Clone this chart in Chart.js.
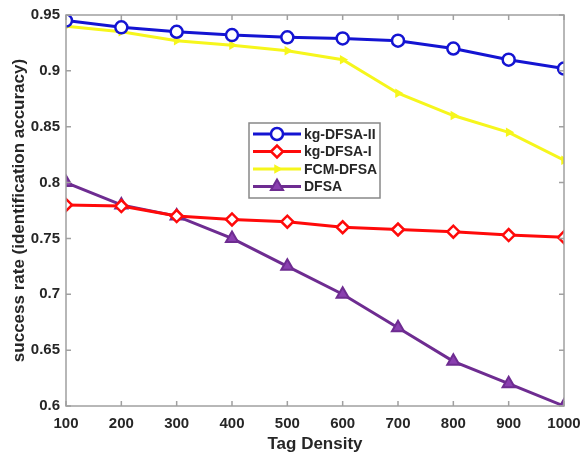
<!DOCTYPE html>
<html>
<head>
<meta charset="utf-8">
<script src="https://cdn.jsdelivr.net/npm/chart.js@4"></script>
<style>
  html, body { margin: 0; padding: 0; background: #fff; }
  #box { width: 581px; height: 457px; }
</style>
</head>
<body>
<div id="box"><canvas id="grafico" width="581" height="457"></canvas></div>
<script>
// dados
const densidade = [100, 200, 300, 400, 500, 600, 700, 800, 900, 1000];
const kgDfsaII = [0.945, 0.939, 0.935, 0.932, 0.930, 0.929, 0.927, 0.920, 0.910, 0.902];
const kgDfsaI  = [0.780, 0.779, 0.770, 0.767, 0.765, 0.760, 0.758, 0.756, 0.753, 0.751];
const fcmDfsa  = [0.940, 0.935, 0.927, 0.923, 0.918, 0.910, 0.880, 0.860, 0.845, 0.820];
const dfsa     = [0.800, 0.780, 0.770, 0.750, 0.725, 0.700, 0.670, 0.640, 0.620, 0.600];
const yTicks = [0.6, 0.65, 0.7, 0.75, 0.8, 0.85, 0.9, 0.95];

const fonte = "'Liberation Sans', Arial, sans-serif";

function pares(ys) {
    return densidade.map(function (x, i) { return { x: x, y: ys[i] }; });
}

const series = [
    { label: 'kg-DFSA-II', data: pares(kgDfsaII), borderColor: '#1414d2', backgroundColor: '#ffffff',
      pointStyle: 'circle', pointRadius: 6, pointBorderWidth: 2.5, pointRotation: 0 },
    { label: 'kg-DFSA-I', data: pares(kgDfsaI), borderColor: '#ff0a0a', backgroundColor: '#ffffff',
      pointStyle: 'rectRot', pointRadius: 6, pointBorderWidth: 2.5, pointRotation: 0 },
    { label: 'FCM-DFSA', data: pares(fcmDfsa), borderColor: '#f6f61c', backgroundColor: '#f6f61c',
      pointStyle: 'triangle', pointRadius: 4, pointBorderWidth: 1.5, pointRotation: 90 },
    { label: 'DFSA', data: pares(dfsa), borderColor: '#6e2c91', backgroundColor: '#8a3fb0',
      pointStyle: 'triangle', pointRadius: 7, pointBorderWidth: 2, pointRotation: 0 }
];

// moldura, ticks para dentro e legenda
const moldura = {
    id: 'moldura',
    afterDatasetsDraw(chart) {
        const ctx = chart.ctx;
        const a = chart.chartArea;
        const sx = chart.scales.x, sy = chart.scales.y;
        ctx.save();
        ctx.strokeStyle = '#a0a0a0';
        ctx.lineWidth = 1.5;
        ctx.strokeRect(a.left, a.top, a.right - a.left, a.bottom - a.top);
        ctx.beginPath();
        densidade.forEach(function (v) {
            const px = sx.getPixelForValue(v);
            ctx.moveTo(px, a.bottom); ctx.lineTo(px, a.bottom - 5);
            ctx.moveTo(px, a.top); ctx.lineTo(px, a.top + 5);
        });
        yTicks.forEach(function (v) {
            const py = sy.getPixelForValue(v);
            ctx.moveTo(a.left, py); ctx.lineTo(a.left + 5, py);
            ctx.moveTo(a.right, py); ctx.lineTo(a.right - 5, py);
        });
        ctx.stroke();

        // legenda
        const lx = 249, ly = 123, lw = 131, lh = 75;
        ctx.fillStyle = '#ffffff';
        ctx.fillRect(lx, ly, lw, lh);
        ctx.strokeStyle = '#888888';
        ctx.lineWidth = 1.5;
        ctx.strokeRect(lx, ly, lw, lh);
        ctx.font = 'bold 14px ' + fonte;
        ctx.textBaseline = 'middle';
        series.forEach(function (s, i) {
            const y = ly + 11 + i * 17.5;
            ctx.strokeStyle = s.borderColor;
            ctx.lineWidth = 3;
            ctx.beginPath(); ctx.moveTo(lx + 4, y); ctx.lineTo(lx + 52, y); ctx.stroke();
            ctx.fillStyle = s.backgroundColor;
            ctx.strokeStyle = s.borderColor;
            ctx.lineWidth = s.pointBorderWidth;
            Chart.helpers.drawPoint(ctx, {
                pointStyle: s.pointStyle, radius: s.pointRadius, borderWidth: s.pointBorderWidth,
                rotation: s.pointRotation
            }, lx + 28, y);
            ctx.fillStyle = '#262626';
            ctx.fillText(s.label, lx + 55, y + 1);
        });
        ctx.restore();
    }
};

const config = {
    type: 'line',
    data: {
        datasets: series.map(function (s) {
            return Object.assign({ borderWidth: 3, fill: false, tension: 0, pointHoverRadius: s.pointRadius }, s);
        })
    },
    options: {
        responsive: false,
        animation: false,
        layout: { padding: { top: 14, right: 0, left: 5, bottom: 0 } },
        plugins: { legend: { display: false }, tooltip: { enabled: false } },
        scales: {
            x: {
                type: 'linear', min: 100, max: 1000,
                afterBuildTicks: function (s) { s.ticks = densidade.map(function (v) { return { value: v }; }); },
                afterFit: function (s) { s.height = 51; s.paddingRight = 17; },
                grid: { display: false, drawTicks: false },
                border: { display: false },
                ticks: { color: '#262626', font: { family: fonte, size: 15, weight: 'bold' }, padding: 9, maxRotation: 0,
                         callback: function (v) { return String(v); } },
                title: { display: true, text: 'Tag Density', color: '#262626',
                         font: { family: fonte, size: 17, weight: 'bold' }, padding: { top: 0, bottom: 2 } }
            },
            y: {
                min: 0.6, max: 0.95,
                afterBuildTicks: function (s) { s.ticks = yTicks.map(function (v) { return { value: v }; }); },
                afterFit: function (s) { s.width = 61; },
                grid: { display: false, drawTicks: false },
                border: { display: false },
                ticks: { color: '#262626', font: { family: fonte, size: 15, weight: 'bold' }, padding: 6,
                         callback: function (v) { return String(Number(v.toFixed(2))); } },
                title: { display: true, text: 'success rate (identification accuracy)', color: '#262626',
                         font: { family: fonte, size: 17, weight: 'bold' }, padding: { bottom: 2 } }
            }
        }
    },
    plugins: [moldura]
};

new Chart(document.getElementById('grafico'), config);
</script>
</body>
</html>
